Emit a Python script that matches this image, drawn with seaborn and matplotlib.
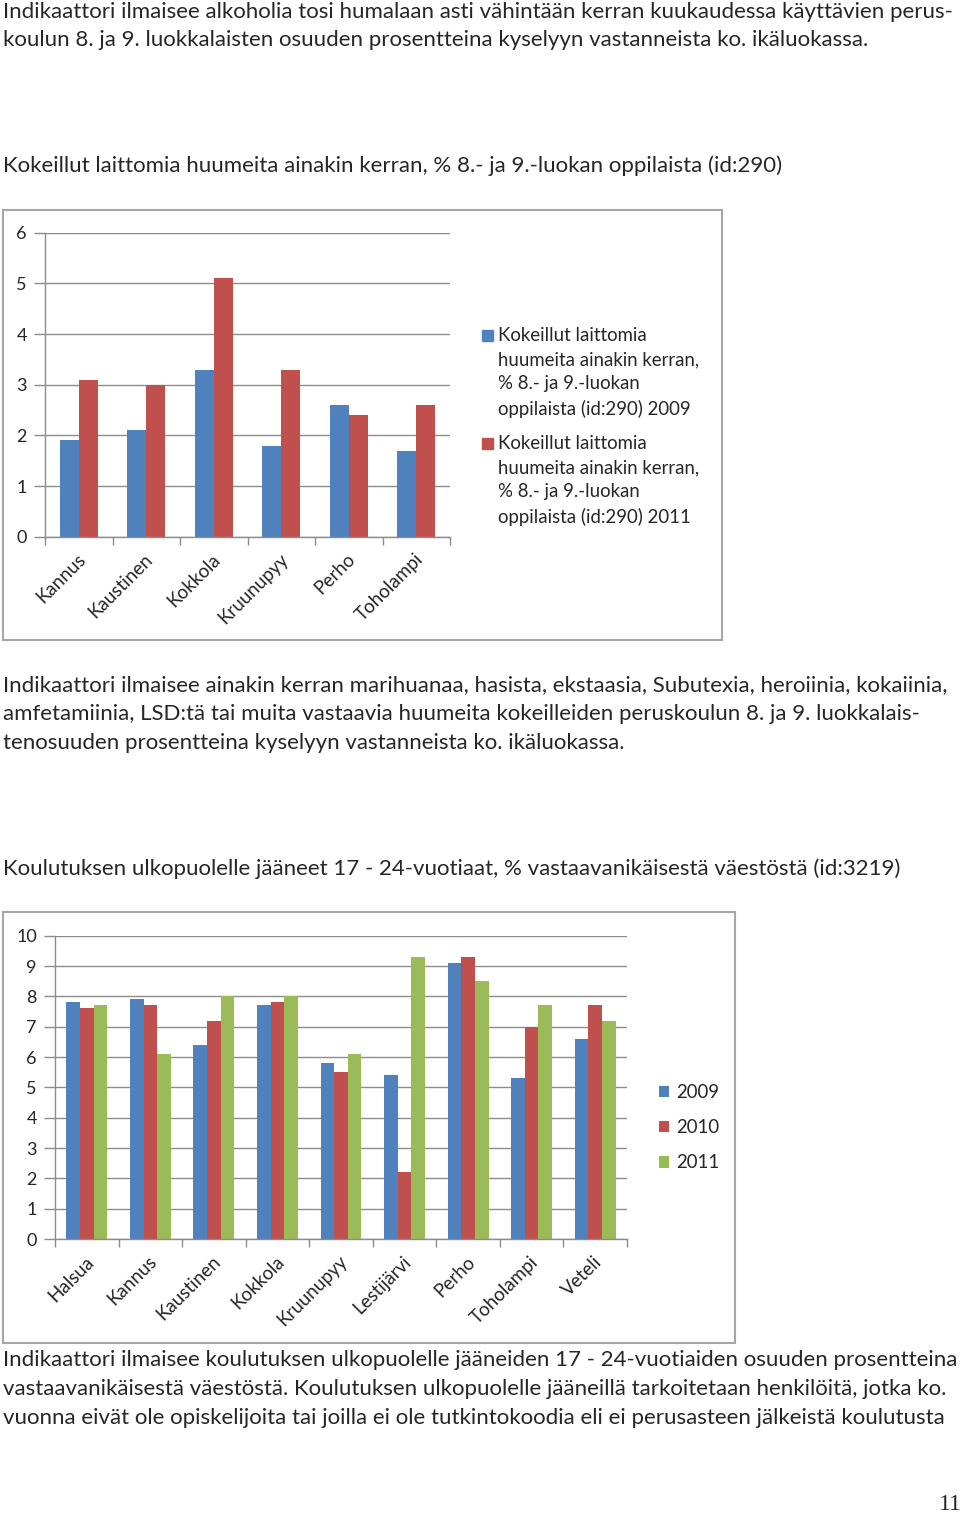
import matplotlib
matplotlib.use("Agg")
import matplotlib.pyplot as plt
import matplotlib.transforms as mtransforms
from matplotlib.patches import Rectangle
import pandas as pd
import seaborn as sns

# --- data -------------------------------------------------------------
top_regions = ['Kannus', 'Kaustinen', 'Kokkola', 'Kruunupyy', 'Perho', 'Toholampi']
top_2009 = [1.9, 2.1, 3.3, 1.8, 2.6, 1.7]
top_2011 = [3.1, 3.0, 5.1, 3.3, 2.4, 2.6]
top_series = ['Kokeillut laittomia\nhuumeita ainakin kerran,\n% 8.- ja 9.-luokan\noppilaista (id:290) 2009',
              'Kokeillut laittomia\nhuumeita ainakin kerran,\n% 8.- ja 9.-luokan\noppilaista (id:290) 2011']

bottom_regions = ['Halsua', 'Kannus', 'Kaustinen', 'Kokkola', 'Kruunupyy',
                  'Lestijärvi', 'Perho', 'Toholampi', 'Veteli']
bottom_2009 = [7.8, 7.9, 6.4, 7.7, 5.8, 5.4, 9.1, 5.3, 6.6]
bottom_2010 = [7.6, 7.7, 7.2, 7.8, 5.5, 2.2, 9.3, 7.0, 7.7]
bottom_2011 = [7.7, 6.1, 8.0, 8.0, 6.1, 9.3, 8.5, 7.7, 7.2]
bottom_series = ['2009', '2010', '2011']

colors = ['#4F81BD', '#C0504D', '#9BBB59']
grid_col = '#8C8C8C'
frame_col = '#A6A6A6'

texts = [
    (12, 'Indikaattori ilmaisee alkoholia tosi humalaan asti vähintään kerran kuukaudessa käyttävien perus-'),
    (40, 'koulun 8. ja 9. luokkalaisten osuuden prosentteina kyselyyn vastanneista ko. ikäluokassa.'),
    (166, 'Kokeillut laittomia huumeita ainakin kerran, % 8.- ja 9.-luokan oppilaista (id:290)'),
    (685, 'Indikaattori ilmaisee ainakin kerran marihuanaa, hasista, ekstaasia, Subutexia, heroiinia, kokaiinia,'),
    (714, 'amfetamiinia, LSD:tä tai muita vastaavia huumeita kokeilleiden peruskoulun 8. ja 9. luokkalais-'),
    (743, 'tenosuuden prosentteina kyselyyn vastanneista ko. ikäluokassa.'),
    (869, 'Koulutuksen ulkopuolelle jääneet 17 - 24-vuotiaat, % vastaavanikäisestä väestöstä (id:3219)'),
    (1360, 'Indikaattori ilmaisee koulutuksen ulkopuolelle jääneiden 17 - 24-vuotiaiden osuuden prosentteina'),
    (1389, 'vastaavanikäisestä väestöstä. Koulutuksen ulkopuolelle jääneillä tarkoitetaan henkilöitä, jotka ko.'),
    (1418, 'vuonna eivät ole opiskelijoita tai joilla ei ole tutkintokoodia eli ei perusasteen jälkeistä koulutusta'),
]

sns.set_theme(style='white')
plt.rcParams['font.family'] = ['Lato', 'DejaVu Sans']

W, H = 960, 1515
fig = plt.figure(figsize=(W / 100, H / 100), dpi=100)


def ax_rect(left, top, right, bottom):
    return [left / W, 1 - bottom / H, (right - left) / W, (bottom - top) / H]


def frame(left, top, right, bottom):
    fig.patches.append(Rectangle((left / W, 1 - bottom / H), (right - left) / W, (bottom - top) / H,
                                 transform=fig.transFigure, fill=False,
                                 edgecolor=frame_col, lw=1.5))


def style_axes(ax, n, ymax, step, dx):
    ax.set_xlim(-0.5, n - 0.5)
    ax.set_ylim(0, ymax)
    ax.set_yticks(range(0, ymax + 1, step))
    ax.yaxis.grid(True, color=grid_col, lw=1)
    ax.set_axisbelow(True)
    for s in ['top', 'right']:
        ax.spines[s].set_visible(False)
    for s in ['left', 'bottom']:
        ax.spines[s].set_color(grid_col)
        ax.spines[s].set_linewidth(1)
    ax.tick_params(axis='y', direction='out', length=8, color=grid_col, width=1,
                   labelsize=13, pad=5, left=True)
    ax.set_xticks([i - 0.5 for i in range(n + 1)], minor=True)
    ax.tick_params(axis='x', which='minor', direction='out', length=6, color=grid_col, width=1, bottom=True)
    ax.tick_params(axis='x', which='major', length=0, labelsize=13.5, pad=10)
    ax.set_xlabel('')
    ax.set_ylabel('')
    off = mtransforms.ScaledTranslation(dx / 100, 0, fig.dpi_scale_trans)
    for lab in ax.get_xticklabels():
        lab.set_rotation(45)
        lab.set_ha('right')
        lab.set_rotation_mode('anchor')
        lab.set_transform(lab.get_transform() + off)


# --- top chart --------------------------------------------------------
frame(3, 210, 722, 640)
ax1 = fig.add_axes(ax_rect(45, 232.7, 450, 536.7))
df1 = pd.DataFrame({'alue': top_regions * 2,
                    'arvo': top_2009 + top_2011,
                    'sarja': [top_series[0]] * 6 + [top_series[1]] * 6})
sns.barplot(data=df1, x='alue', y='arvo', hue='sarja', palette=colors[:2],
            width=0.57, saturation=1, linewidth=0, legend=False, ax=ax1)
style_axes(ax1, len(top_regions), 6, 1, -2)

for i, (lab, y0) in enumerate(zip(top_series, [335, 443])):
    fig.patches.append(Rectangle((482 / W, 1 - (y0 + 6) / H), 11 / W, 11 / H,
                                 transform=fig.transFigure, color=colors[i]))
    fig.text(498 / W, 1 - (y0 - 8) / H, lab, fontsize=13.4, va='top', ha='left',
             linespacing=1.5)

# --- bottom chart -----------------------------------------------------
frame(3, 912, 735, 1343)
ax2 = fig.add_axes(ax_rect(55, 935.7, 627, 1239))
n2 = len(bottom_regions)
df2 = pd.DataFrame({'alue': bottom_regions * 3,
                    'arvo': bottom_2009 + bottom_2010 + bottom_2011,
                    'sarja': [bottom_series[0]] * n2 + [bottom_series[1]] * n2 + [bottom_series[2]] * n2})
sns.barplot(data=df2, x='alue', y='arvo', hue='sarja', palette=colors,
            width=0.645, saturation=1, linewidth=0, ax=ax2)
style_axes(ax2, n2, 10, 1, -2)
ax2.legend(loc='upper left', bbox_to_anchor=(659 / W, 1 - 1084 / H),
           bbox_transform=fig.transFigure, frameon=False, fontsize=13.4,
           handlelength=0.55, handleheight=0.55, handletextpad=0.35, labelspacing=0.98,
           borderpad=0, borderaxespad=0)

# --- texts ------------------------------------------------------------
for y, t in texts:
    fig.text(3 / W, 1 - y / H, t, fontsize=16, va='center', ha='left')
fig.text(950 / W, 1 - 1505 / H, '11', fontsize=17, va='center', ha='center',
         family=['Liberation Serif', 'DejaVu Serif'])

fig.savefig('out.png', dpi=100)
